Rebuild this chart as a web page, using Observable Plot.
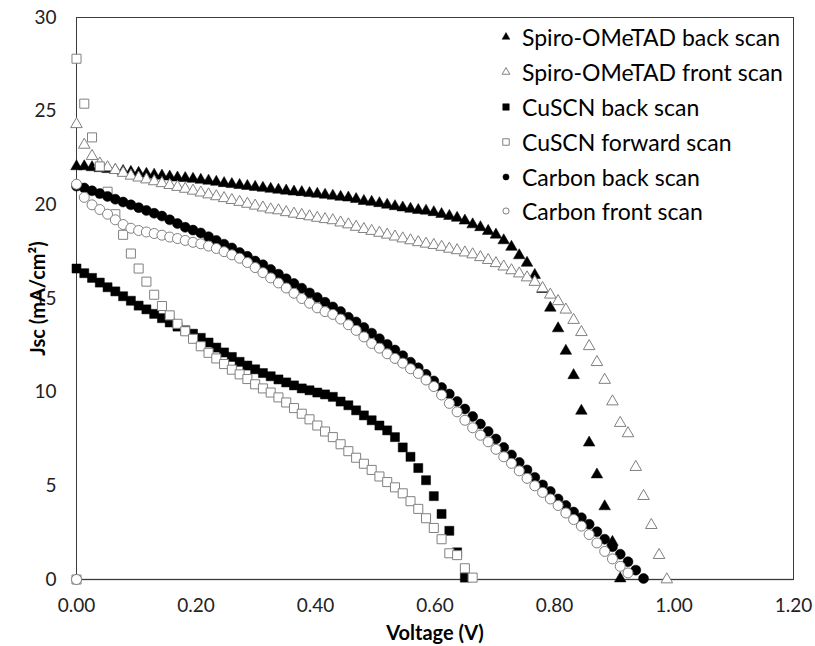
<!DOCTYPE html>
<html><head><meta charset="utf-8">
<script src="https://cdn.jsdelivr.net/npm/d3@7"></script>
<script src="https://cdn.jsdelivr.net/npm/@observablehq/plot@0.6"></script>
<style>
body{margin:0;background:#fff;}
#wrap{position:relative;width:815px;height:646px;font-family:Lato,sans-serif;}
#legend{position:absolute;left:498px;top:20px;}
.row{display:flex;align-items:center;height:34.8px;font-size:23px;color:#000;white-space:nowrap;}
.row svg{width:16px;height:16px;margin-right:8px;flex:none;overflow:visible}
g[aria-label="x-axis label"] text, g[aria-label="y-axis label"] text{font-weight:bold;font-size:20px;fill:#000;}
</style></head><body><div id="wrap"></div>
<script>
// Shared voltage sweep (V)
const voltage = [0,0.013,0.026,0.039,0.052,0.065,0.078,0.091,0.104,0.117,0.13,0.143,0.156,0.169,0.182,0.195,0.208,0.221,0.234,0.247,0.26,0.273,0.286,0.299,0.312,0.325,0.338,0.351,0.364,0.377,0.39,0.403,0.416,0.429,0.442,0.455,0.468,0.481,0.494,0.507,0.52,0.533,0.546,0.559,0.572,0.585,0.598,0.611,0.624,0.637,0.65,0.663,0.676,0.689,0.702,0.715,0.728,0.741,0.754,0.767,0.78,0.793,0.806,0.819,0.832,0.845,0.858,0.871,0.884,0.897,0.91,0.923,0.936,0.949,0.962,0.975,0.988];

const seriesNames = ["Spiro-OMeTAD back scan","Spiro-OMeTAD front scan","CuSCN back scan","CuSCN forward scan","Carbon back scan","Carbon front scan"];

// Jsc (mA/cm2) per series, aligned with voltage[]
const spiroBackJ = [22.05,22.05,22.0,21.95,21.9,21.85,21.8,21.75,21.7,21.65,21.6,21.55,21.5,21.45,21.42,21.38,21.33,21.28,21.22,21.15,21.1,21.05,21.0,20.95,20.9,20.85,20.8,20.75,20.7,20.67,20.62,20.58,20.53,20.48,20.42,20.38,20.3,20.2,20.15,20.08,20.0,19.92,19.85,19.78,19.72,19.68,19.6,19.5,19.4,19.3,19.15,18.95,18.8,18.6,18.4,18.1,17.75,17.3,16.9,16.25,15.5,14.5,13.4,12.2,10.9,9.0,7.3,5.6,3.9,2.0,0.05];
const spiroFrontJ = [24.3,23.2,22.6,22.2,22.0,21.85,21.7,21.55,21.45,21.35,21.25,21.15,21.05,20.95,20.85,20.75,20.65,20.55,20.45,20.35,20.25,20.15,20.05,19.95,19.85,19.75,19.7,19.6,19.52,19.45,19.38,19.3,19.23,19.17,19.05,18.95,18.82,18.7,18.6,18.5,18.4,18.3,18.2,18.1,18.0,17.92,17.85,17.75,17.65,17.57,17.45,17.35,17.2,17.05,16.88,16.7,16.5,16.33,16.12,15.88,15.55,15.2,14.85,14.4,13.85,13.2,12.45,11.6,10.65,9.5,8.35,7.8,6.0,4.45,2.9,1.3,0.0];
const cuscnBackJ = [16.6,16.35,16.1,15.85,15.6,15.38,15.12,14.88,14.62,14.42,14.18,13.95,13.72,13.5,13.3,13.12,12.9,12.65,12.38,12.12,11.88,11.62,11.42,11.22,11.02,10.85,10.68,10.52,10.36,10.2,10.1,9.98,9.88,9.75,9.5,9.3,9.03,8.76,8.5,8.22,7.96,7.6,7.05,6.55,5.95,5.3,4.45,3.5,2.6,1.45,0.1];
const cuscnForwardJ = [27.8,25.4,23.6,22.05,20.7,19.5,18.4,17.4,16.6,15.9,15.2,14.6,14.1,13.65,13.25,12.85,12.45,12.1,11.8,11.5,11.2,10.95,10.7,10.42,10.2,9.98,9.72,9.45,9.15,8.85,8.55,8.22,7.9,7.6,7.22,6.85,6.5,6.18,5.85,5.5,5.2,4.92,4.6,4.18,3.77,3.27,2.75,2.15,1.4,1.3,0.6,0.1];
const carbonBackJ = [21.0,20.9,20.75,20.6,20.45,20.3,20.15,20.0,19.85,19.7,19.55,19.4,19.2,19.0,18.8,18.65,18.5,18.3,18.1,17.9,17.7,17.45,17.25,17.0,16.8,16.55,16.3,16.05,15.8,15.55,15.3,15.05,14.8,14.55,14.3,14.0,13.75,13.45,13.15,12.85,12.55,12.25,11.95,11.6,11.3,10.95,10.6,10.25,9.9,9.5,9.1,8.7,8.3,7.9,7.5,7.05,6.65,6.25,5.85,5.45,5.05,4.7,4.3,3.95,3.6,3.3,2.95,2.55,2.15,1.75,1.35,0.95,0.5,0.05];
const carbonFrontJ = [21.1,20.4,20.0,19.75,19.5,19.2,18.95,18.75,18.63,18.55,18.47,18.38,18.28,18.2,18.1,18.0,17.92,17.8,17.67,17.5,17.33,17.15,16.92,16.65,16.38,16.1,15.83,15.56,15.28,15.0,14.75,14.5,14.3,14.15,13.9,13.6,13.3,12.95,12.6,12.35,12.05,11.8,11.55,11.25,11.0,10.65,10.3,9.85,9.4,8.95,8.5,8.1,7.7,7.35,6.95,6.55,6.2,5.8,5.4,5.0,4.65,4.3,3.95,3.55,3.2,2.85,2.4,1.95,1.5,1.1,0.7,0.35];

// extra points recorded at the origin (V, J)
const cuscnForwardOrigin = [0, 0];
const carbonFrontOrigin = [0, 0];

const xTicks = [0, 0.2, 0.4, 0.6, 0.8, 1.0, 1.2];
const yTicks = [0, 5, 10, 15, 20, 25, 30];

// ---- build ----
const seriesJ = [spiroBackJ, spiroFrontJ, cuscnBackJ, cuscnForwardJ, carbonBackJ, carbonFrontJ];
const origins = [null, null, null, cuscnForwardOrigin, null, carbonFrontOrigin];
const symbols = ["triangle","triangle","square","square","circle","circle"];
const filled = [true,false,true,false,true,false];
const radii = {triangle: 4.3, square: 5.1, circle: 5.0};
const openStroke = "#808080";

const marks = [
  Plot.ruleY([0], {stroke: "#8c8c8c", strokeWidth: 1.5}),
  Plot.frame({stroke: "#3a3a3a", strokeWidth: 1})
];
seriesJ.forEach((arr, k) => {
  const rows = [];
  if (origins[k]) rows.push({V: origins[k][0], J: origins[k][1]});
  arr.forEach((j, i) => rows.push({V: voltage[i], J: j}));
  marks.push(Plot.dot(rows, {
    x: "V", y: "J", symbol: symbols[k], r: radii[symbols[k]],
    fill: filled[k] ? "#000" : "#fff",
    stroke: filled[k] ? "#000" : openStroke,
    strokeWidth: filled[k] ? 0.5 : 1
  }));
});

const chart = Plot.plot({
  width: 815, height: 646,
  marginLeft: 76, marginRight: 22, marginTop: 17, marginBottom: 67,
  style: {fontFamily: "Lato, sans-serif", fontSize: "19px", color: "#222", background: "#fff"},
  x: {domain: [0, 1.2], ticks: xTicks, tickFormat: d3.format(".2f"), tickSize: 0, tickPadding: 19,
      label: "Voltage (V)", labelAnchor: "center", labelOffset: 60, labelArrow: "none"},
  y: {domain: [0, 30], ticks: yTicks, tickSize: 0, tickPadding: 20,
      label: "Jsc (mA/cm²)", labelAnchor: "center", labelOffset: 46, labelArrow: "none"},
  marks
});
const wrap = document.getElementById("wrap");
wrap.appendChild(chart);

// legend inside plot, top right
const legend = document.createElement("div");
legend.id = "legend";
seriesNames.forEach((name, k) => {
  const row = document.createElement("div");
  row.className = "row";
  const svg = d3.create("svg").attr("viewBox", "-8 -8 16 16");
  const shape = symbols[k];
  const size = shape === "triangle" ? 26 : shape === "square" ? 42 : 30;
  const sym = shape === "triangle" ? d3.symbolTriangle : shape === "square" ? d3.symbolSquare : d3.symbolCircle;
  svg.append("path").attr("d", d3.symbol(sym, size)())
    .attr("fill", filled[k] ? "#000" : "#fff")
    .attr("stroke", filled[k] ? "#000" : openStroke)
    .attr("stroke-width", filled[k] ? 0.5 : 1);
  row.appendChild(svg.node());
  const t = document.createElement("span");
  t.textContent = name;
  row.appendChild(t);
  legend.appendChild(row);
});
wrap.appendChild(legend);
</script>
</body></html>
